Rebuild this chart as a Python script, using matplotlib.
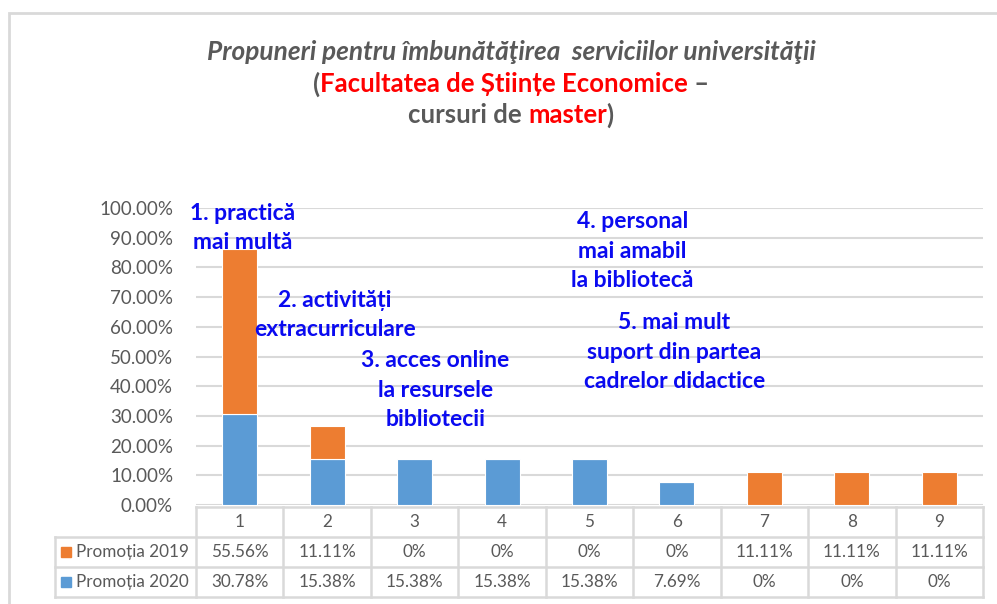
import matplotlib
matplotlib.use("Agg")
import matplotlib.pyplot as plt
from matplotlib.patches import Rectangle
from matplotlib.lines import Line2D

# data
categories = ["1", "2", "3", "4", "5", "6", "7", "8", "9"]
promotia_2019 = [55.56, 11.11, 0, 0, 0, 0, 11.11, 11.11, 11.11]
promotia_2020 = [30.78, 15.38, 15.38, 15.38, 15.38, 7.69, 0, 0, 0]
series_names = ["Promoția 2019", "Promoția 2020"]

notes = [
    "1. practică\nmai multă",
    "2. activități\nextracurriculare",
    "3. acces online\nla resursele\nbibliotecii",
    "4. personal\nmai amabil\nla bibliotecă",
    "5. mai mult\nsuport din partea\ncadrelor didactice",
]
# note anchors (category x, value y)
note_pos = [(0.03, 93.3), (1.09, 64.0), (2.24, 38.7), (4.49, 85.5), (4.97, 51.5)]

ORANGE = "#ED7D31"
BLUE = "#5B9BD5"
GREY = "#595959"
GRID = "#D9D9D9"
RED = "#FF0000"
NOTE_BLUE = "#0A0AF0"

plt.rcParams["font.family"] = ["Lato", "DejaVu Sans"]

W, H = 997, 604
fig = plt.figure(figsize=(W / 100, H / 100), dpi=100)

def fx(px):
    return px / W

def fy(py):
    return 1 - py / H

# outer chart border
fig.patches.append(Rectangle((fx(9), fy(700)), fx(1100), fy(13) - fy(700),
                             transform=fig.transFigure, fill=False,
                             edgecolor=GRID, linewidth=2))

left, right, top, bottom = 196, 983, 208, 505
ax = fig.add_axes([fx(left), fy(bottom), fx(right - left), fy(top) - fy(bottom)])
x = range(len(categories))
ax.bar(x, promotia_2020, width=0.4, color=BLUE, edgecolor="white", linewidth=0.8, zorder=3)
ax.bar(x, promotia_2019, width=0.4, bottom=promotia_2020, color=ORANGE,
       edgecolor="white", linewidth=0.8, zorder=3)
ax.set_xlim(-0.5, len(categories) - 0.5)
ax.set_ylim(0, 100)
ax.set_yticks(range(0, 101, 10))
ax.set_yticklabels([f"{v:.2f}%" for v in range(0, 101, 10)], color=GREY, fontsize=13.5)
ax.tick_params(axis="y", length=0, pad=16.5)
ax.set_xticks([])
ax.grid(axis="y", color=GRID, linewidth=1.5, zorder=0)
for s in ax.spines.values():
    s.set_visible(False)

for txt, (nx, ny) in zip(notes, note_pos):
    ax.text(nx, ny, txt, ha="center", va="center", color=NOTE_BLUE,
            fontsize=16.5, fontweight="bold", linespacing=1.5, zorder=4)

# data table under the axis
tab_left = 55
rows_y = [507, 537, 567, 597]
cell_w = (right - left) / len(categories)
lw = 1.8
fig.lines.append(Line2D([fx(left), fx(right)], [fy(rows_y[0])] * 2, color=GRID, lw=lw,
                        transform=fig.transFigure))
for ry in rows_y[1:]:
    fig.lines.append(Line2D([fx(tab_left), fx(right)], [fy(ry)] * 2, color=GRID, lw=lw,
                            transform=fig.transFigure))
fig.lines.append(Line2D([fx(tab_left)] * 2, [fy(rows_y[1]), fy(rows_y[3])], color=GRID,
                        lw=lw, transform=fig.transFigure))
for i in range(len(categories) + 1):
    xx = left + i * cell_w
    fig.lines.append(Line2D([fx(xx)] * 2, [fy(rows_y[0]), fy(rows_y[3])], color=GRID,
                            lw=lw, transform=fig.transFigure))

def fmt(v):
    return "0%" if v == 0 else f"{v:.2f}%"

fs_tab = 12.3
for i, c in enumerate(categories):
    cx = left + (i + 0.5) * cell_w
    fig.text(fx(cx), fy(522), c, ha="center", va="center", color=GREY, fontsize=fs_tab)
    fig.text(fx(cx), fy(552), fmt(promotia_2019[i]), ha="center", va="center",
             color=GREY, fontsize=fs_tab)
    fig.text(fx(cx), fy(582), fmt(promotia_2020[i]), ha="center", va="center",
             color=GREY, fontsize=fs_tab)

for name, col, ry in zip(series_names, [ORANGE, BLUE], [552, 582]):
    fig.patches.append(Rectangle((fx(61), fy(ry + 5)), fx(10), fy(ry - 5) - fy(ry + 5),
                                 transform=fig.transFigure, color=col))
    fig.text(fx(76), fy(ry), name, ha="left", va="center", color=GREY, fontsize=fs_tab)

# title with mixed colours
fs_title = 18.5
fig.text(fx(511), fy(52), "Propuneri pentru îmbunătăţirea  serviciilor universităţii",
         ha="center", va="center", color=GREY, fontsize=18.9, fontstyle="italic",
         fontweight="bold")

renderer = fig.canvas.get_renderer()

def colored_line(parts, cx, cy):
    texts = [fig.text(0, fy(cy), s, color=c, fontsize=fs_title, fontweight="bold",
                      ha="left", va="center") for s, c in parts]
    widths = [t.get_window_extent(renderer).width for t in texts]
    start = cx - sum(widths) / 2
    for t, w in zip(texts, widths):
        t.set_x(fx(start))
        start += w

colored_line([("(", GREY), ("Facultatea de Științe Economice", RED), (" –", GREY)], 511, 84)
colored_line([("cursuri de ", GREY), ("master", RED), (")", GREY)], 511, 115)

fig.savefig("out.png", dpi=100)
